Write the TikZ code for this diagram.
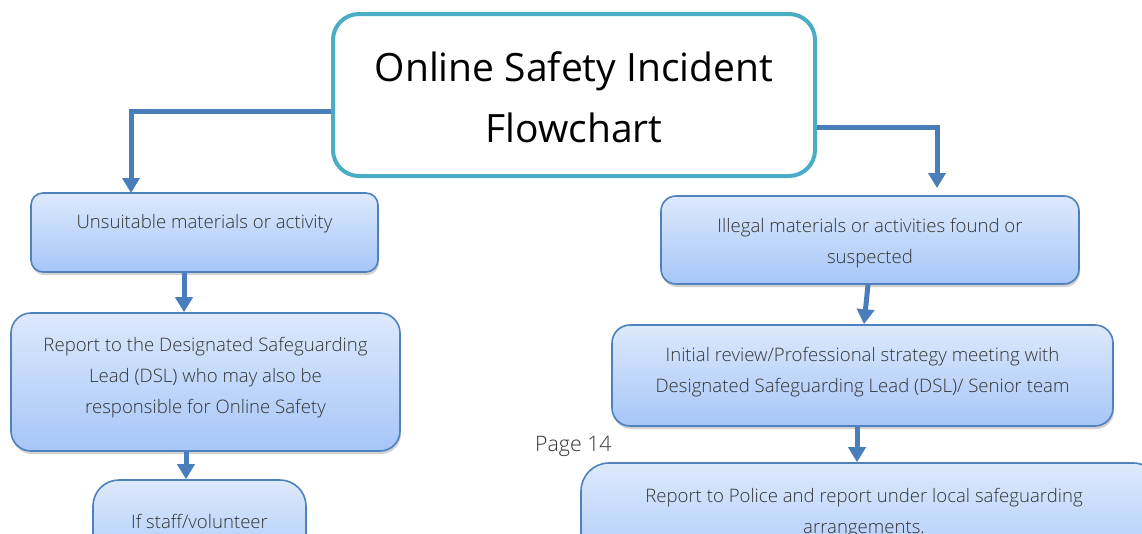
\documentclass[tikz,border=0pt]{standalone}
\usepackage{fontspec}
\setmainfont{Open Sans Light}
\newfontfamily\titlefont{Open Sans}
\usetikzlibrary{arrows.meta,shadows}
\definecolor{titleline}{HTML}{4BACC6}
\definecolor{boxline}{HTML}{4F81BD}
\definecolor{boxtop}{HTML}{DDE9FC}
\definecolor{boxbot}{HTML}{A6C6F8}
\definecolor{arrowc}{HTML}{4A7EBB}
\definecolor{txtc}{HTML}{333333}
\tikzset{
  stepbox/.style={draw=boxline, line width=1.6pt, top color=boxtop, bottom color=boxbot,
    drop shadow={shadow xshift=1pt, shadow yshift=-3pt, opacity=0.35}, inner sep=0pt},
  titlebox/.style={draw=titleline, line width=4pt, fill=white, rounded corners=26pt, inner sep=0pt},
  btxt/.style={text=txtc, font=\fontsize{18.6}{31}\selectfont, align=center, inner sep=0pt},
  flow/.style={draw=arrowc, line width=5pt, -{Triangle[width=17pt,length=15pt]}}
}
\begin{document}
\begin{tikzpicture}[x=1pt,y=-1pt]
\useasboundingbox (0,0) rectangle (1142,533);
\clip (0,0) rectangle (1142,533);
\fill[white] (0,0) rectangle (1142,533);

% title
\node[titlebox, minimum width=482pt, minimum height=162pt] (title) at (574,95) {};
\node[font=\titlefont\fontsize{39}{61}\selectfont, align=center, inner sep=0pt] (ttxt) at (574,97) {Online Safety Incident\\Flowchart};

% left column boxes
\node[stepbox, rounded corners=12pt, minimum width=347pt, minimum height=79pt] (b1) at (204.5,232.5) {};
\node[btxt] (t1) at (204.5,224) {Unsuitable materials or activity};
\node[stepbox, rounded corners=20pt, minimum width=389pt, minimum height=138pt] (b2) at (205.5,382) {};
\node[btxt] (t2) at (205.5,378) {Report to the Designated Safeguarding\\Lead (DSL) who may also be\\responsible for Online Safety};
\node[stepbox, rounded corners=26pt, minimum width=213pt, minimum height=100pt] (b3) at (199.5,530) {};
\node[btxt] (t3) at (199.5,521) {If staff/volunteer};

% right column boxes
\node[stepbox, rounded corners=15pt, minimum width=418pt, minimum height=88pt] (r1) at (870,240) {};
\node[btxt] (u1) at (870,243) {Illegal materials or activities found or\\suspected};
\node[stepbox, rounded corners=18pt, minimum width=501pt, minimum height=101pt] (r2) at (862.5,375.5) {};
\node[btxt] (u2) at (862.5,372.5) {Initial review/Professional strategy meeting with\\Designated Safeguarding Lead (DSL)/ Senior team};
\node[stepbox, rounded corners=28pt, minimum width=580pt, minimum height=120pt] (r3) at (871,523) {};
\node[btxt] (u3) at (864,513) {Report to Police and report under local safeguarding\\arrangements.};

% page number
\node[text=txtc, font=\fontsize{21.3}{23}\selectfont, inner sep=0pt, anchor=base west] (pg) at (535,451) {Page 14};

% connectors
\coordinate (la) at (131,193);
\coordinate (ra) at (937,188);
\draw[flow] ([yshift=-16pt]title.west) -| (la);
\draw[flow] ([yshift=-32pt]title.east) -| (ra);
\draw[flow] ([xshift=-20.5pt]b1.south) -- ([xshift=-20.5pt]b1.south |- b2.north);
\draw[flow] ([xshift=-19.5pt]b2.south) -- ([xshift=-19.5pt]b2.south |- b3.north);
\draw[flow] ([xshift=-2pt]r1.south) -- ([xshift=1.5pt]r2.north);
\draw[flow] ([xshift=-5.5pt]r2.south) -- ([xshift=-5.5pt]r2.south |- r3.north);
\end{tikzpicture}
\end{document}
